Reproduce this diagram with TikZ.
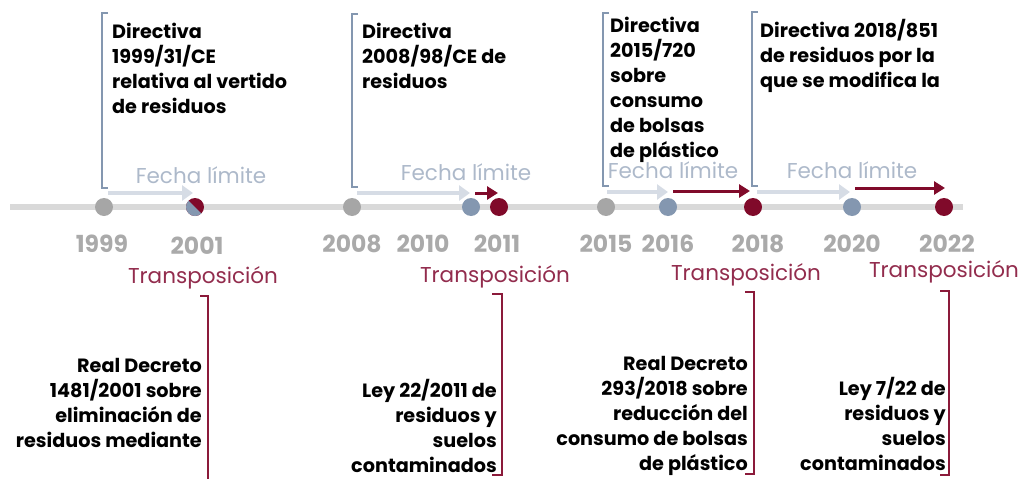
\documentclass[tikz,border=0pt]{standalone}
\usepackage{fontspec}
\setmainfont{Poppins}
\usetikzlibrary{arrows.meta}
\definecolor{linegray}{HTML}{D9D9D9}
\definecolor{dotgray}{HTML}{A6A6A6}
\definecolor{yeargray}{HTML}{AAAAAA}
\definecolor{dotblue}{HTML}{8497B0}
\definecolor{dred}{HTML}{800A2A}
\definecolor{tred}{HTML}{922C4D}
\definecolor{fltext}{HTML}{ADB9CA}
\definecolor{flarrow}{HTML}{D6DCE5}
\definecolor{brblue}{HTML}{8497B0}
\definecolor{brred}{HTML}{8B1A3A}
\begin{document}
\begin{tikzpicture}[x=1pt,y=-1pt,
  dotg/.style={circle,fill=dotgray,minimum size=18pt,inner sep=0pt},
  dotb/.style={circle,fill=dotblue,minimum size=18pt,inner sep=0pt},
  dotr/.style={circle,fill=dred,minimum size=18pt,inner sep=0pt},
  year/.style={font=\fontsize{23.5}{26}\selectfont\bfseries,text=yeargray,anchor=base,inner sep=0pt},
  trans/.style={font=\fontsize{21.5}{24}\selectfont,text=tred,anchor=base,inner sep=0pt},
  fecha/.style={font=\fontsize{21.5}{24}\selectfont,text=fltext,anchor=base,inner sep=0pt},
  toptext/.style={font=\fontsize{19.2}{25}\selectfont\bfseries,align=left,anchor=base west,inner sep=0pt},
  bottext/.style={font=\fontsize{19.2}{25}\selectfont\bfseries,align=right,anchor=base east,inner sep=0pt},
  flarr/.style={draw=flarrow,line width=4pt,-{Triangle[length=11pt,width=15pt]}},
  trarr/.style={draw=dred,line width=3pt,-{Triangle[length=11pt,width=13pt]}},
  topbr/.style={draw=brblue,line width=1.8pt},
  botbr/.style={draw=brred,line width=2pt}]
\useasboundingbox (0,0) rectangle (1020,479);
% timeline
\draw[linegray,line width=6pt] (10,207) -- (963,207);
% dots
\node[dotg] (d1999) at (104,207) {};
\node[dotr] (d2001) at (195,207) {};
\fill[dotblue] (d2001.center) ++(225:9) arc[start angle=225,end angle=45,radius=9] -- cycle;
\node[dotg] (d2008) at (352,207) {};
\node[dotb] (d2010) at (471,207) {};
\node[dotr] (d2011) at (499,207) {};
\node[dotg] (d2015) at (606,207) {};
\node[dotb] (d2016) at (668,207) {};
\node[dotr] (d2018) at (753,207) {};
\node[dotb] (d2020) at (852,207) {};
\node[dotr] (d2022) at (944,207) {};
% years
\node[year] (y1999) at (102,252) {1999};
\node[year] (y2001) at (197,254) {2001};
\node[year] (y2008) at (352,252) {2008};
\node[year] (y2010) at (423,252) {2010};
\node[year] (y2011) at (497,252) {2011};
\node[year] (y2015) at (606,252) {2015};
\node[year] (y2016) at (668,252) {2016};
\node[year] (y2018) at (758,252) {2018};
\node[year] (y2020) at (852,252) {2020};
\node[year] (y2022) at (947,252) {2022};
% transposicion
\node[trans] (t1) at (203,283) {Transposición};
\node[trans] (t2) at (495,282) {Transposición};
\node[trans] (t3) at (746,280) {Transposición};
\node[trans] (t4) at (944,277) {Transposición};
% fecha limite
\node[fecha] (f1) at (201,183) {Fecha límite};
\node[fecha] (f2) at (466,180) {Fecha límite};
\node[fecha] (f3) at (673,178) {Fecha límite};
\node[fecha] (f4) at (852,178) {Fecha límite};
% arrows
\draw[flarr] ([shift={(4,-14)}]d1999.center) -- ([shift={(-2,-14)}]d2001.center);
\draw[flarr] ([shift={(5,-14)}]d2008.center) -- ([shift={(-1,-14)}]d2010.center);
\draw[flarr] ([shift={(1,-15)}]d2015.center) -- ([shift={(0,-15)}]d2016.center);
\draw[flarr] ([shift={(4,-15)}]d2018.center) -- ([shift={(-2,-15)}]d2020.center);
\draw[trarr] ([shift={(4,-14)}]d2010.center) -- ([shift={(-1,-14)}]d2011.center);
\draw[trarr] ([shift={(5,-16)}]d2016.center) -- ([shift={(-3,-16)}]d2018.center);
\draw[trarr] ([shift={(3,-19)}]d2020.center) -- ([shift={(1,-19)}]d2022.center);
% top brackets
\draw[topbr] (108,13) -- (102,13) -- (102,188) -- (108,188);
\draw[topbr] (358,14) -- (352,14) -- (352,187) -- (358,187);
\draw[topbr] (609,13) -- (603,13) -- (603,186) -- (609,186);
\draw[topbr] (758,12) -- (752,12) -- (752,186) -- (758,186);
% top texts (anchored at the baseline of the last line)
\node[toptext] (a1) at (112,113) {Directiva\\1999/31/CE\\relativa al vertido\\de residuos};
\node[toptext] (a2) at (362,88) {Directiva\\2008/98/CE de\\residuos};
\node[toptext] (a3) at (610,157) {Directiva\\2015/720\\sobre\\consumo\\de bolsas\\de plástico};
\node[toptext] (a4) at (760,87) {Directiva 2018/851\\de residuos por la\\que se modifica la};
% bottom brackets
\draw[botbr] (200,296) -- (208,296) -- (208,479);
\draw[botbr] (492,294) -- (502,294) -- (502,475) -- (492,475);
\draw[botbr] (745,292) -- (754,292) -- (754,474) -- (745,474);
\draw[botbr] (940,291) -- (949,291) -- (949,475) -- (940,475);
% bottom texts (anchored at the baseline of the last line)
\node[bottext] (b1) at (202,447) {Real Decreto\\1481/2001 sobre\\eliminación de\\residuos mediante};
\node[bottext] (b2) at (497,472) {Ley 22/2011 de\\residuos y\\suelos\\contaminados};
\node[bottext] (b3) at (748,470) {Real Decreto\\293/2018 sobre\\reducción del\\consumo de bolsas\\de plástico};
\node[bottext] (b4) at (946,470) {Ley 7/22 de\\residuos y\\suelos\\contaminados};
\end{tikzpicture}
\end{document}
